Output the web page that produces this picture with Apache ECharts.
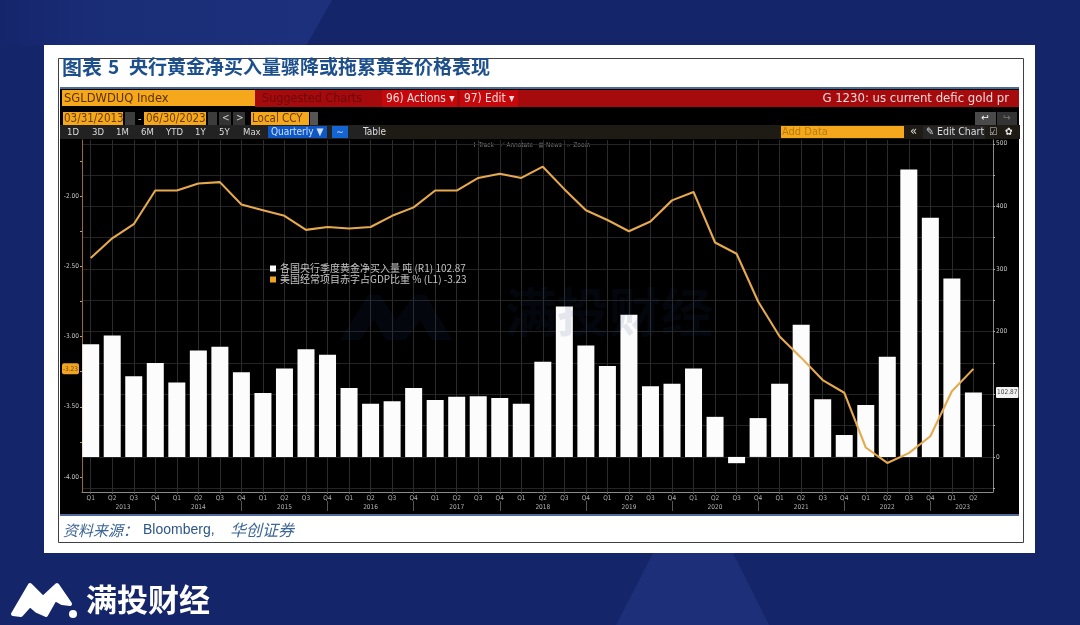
<!DOCTYPE html>
<html><head><meta charset="utf-8">
<style>html,body{margin:0;padding:0;background:#15256a}#c{width:1080px;height:625px;filter:blur(0.45px)}</style>
<script src="https://cdn.jsdelivr.net/npm/echarts@6/dist/echarts.min.js"></script>
</head><body><div id="c"></div>
<script>
const quarterLabels = ['Q1','Q2','Q3','Q4','Q1','Q2','Q3','Q4','Q1','Q2','Q3','Q4','Q1','Q2','Q3','Q4','Q1','Q2','Q3','Q4','Q1','Q2','Q3','Q4','Q1','Q2','Q3','Q4','Q1','Q2','Q3','Q4','Q1','Q2','Q3','Q4','Q1','Q2','Q3','Q4','Q1','Q2'];
const yearLabels = ['2013','2014','2015','2016','2017','2018','2019','2020','2021','2022','2023'];
const yearPositions = [1.5,5,9,13,17,21,25,29,33,37,40.5];
const yearSeparators = [3,7,11,15,19,23,27,31,35,39];
const goldPurchases = [180,194,129,150,119,170,176,135,102,141,172,163,110,85,89,110,91,96,97,94,85,152,240,178,145,227,113,117,141,64,-10,62,117,211,92,35,83,160,459,382,285,102.87];
const deficitPct = [-2.44,-2.30,-2.20,-1.96,-1.96,-1.91,-1.90,-2.06,-2.10,-2.14,-2.24,-2.22,-2.23,-2.22,-2.14,-2.08,-1.96,-1.96,-1.87,-1.84,-1.87,-1.79,-1.95,-2.10,-2.17,-2.25,-2.18,-2.03,-1.97,-2.33,-2.41,-2.75,-3.00,-3.15,-3.31,-3.40,-3.79,-3.90,-3.83,-3.71,-3.39,-3.23];
const leftTicks = [-4,-3.5,-3,-2.5,-2];
const leftMinorTicks = [-3.75,-3.25,-2.75,-2.25,-1.75];
const rightTicks = [0,100,200,300,400,500];
const rightMinorTicks = [-50,50,150,250,350,450];
const barName = '各国央行季度黄金净买入量 吨 (R1) 102.87';
const lineName = '美国经常项目赤字占GDP比重 % (L1) -3.23';
const lastLeft = -3.23, lastRight = 102.87;

const UI = '"DejaVu Sans Condensed","DejaVu Sans",sans-serif';
const CJK = '"Noto Sans CJK SC",sans-serif';
const idx = quarterLabels.map((_, i) => i);
const R = (x,y,w,h,fill,z) => ({type:'rect',silent:true,z:z||-5,shape:{x,y,width:w,height:h},style:{fill}});
const T = (x,y,text,fill,size,opt) => ({type:'text',silent:true,z:-1,x,y,style:Object.assign({text,fill,font:`${size}px ${UI}`,textVerticalAlign:'middle'},opt||{})});
const P = (points,fill,z) => ({type:'polygon',silent:true,z:z||-9,shape:{points},style:{fill}});

const graphic = [
  R(0,0,1080,625,'#15256a',-10),
  P([[0,0],[332,0],[306,46],[0,46]],{type:'linear',x:0,y:0,x2:1,y2:0,colorStops:[{offset:0,color:'#15256c'},{offset:.35,color:'#1a2e78'},{offset:1,color:'#1c307b'}]}),
  P([[653,553],[733,553],[769,625],[616,625]],'#1c2f78'),
  R(44,45,991,508,'#ffffff',-8),
  {type:'rect',silent:true,z:-7,shape:{x:58.5,y:58.5,width:965,height:484},style:{fill:'#fff',stroke:'#3f3f46',lineWidth:1}},
  R(60,88,959,427,'#000000',-6),
  R(60,87,959,2,'#4f6a9c',-5),
  R(60,514,959,2,'#4f6a9c',-5),
  // header row
  R(62,90,193,16,'#f5a81c'),
  R(255,90,764,17,'#a50a0c'),
  R(382,90,75,17,'#c5080c'),
  R(460,90,58,17,'#c5080c'),
  T(64,98.5,'SGLDWDUQ Index','#5a3200',12.8),
  T(262,98.5,'Suggested Charts','#6c0a0c',12.5),
  T(386,98.5,'96) Actions ▾','#f3dada',11.8),
  T(464,98.5,'97) Edit ▾','#f3dada',11.8),
  T(1009,98.5,'G 1230: us current defic gold pr','#f3d8d8',13,{textAlign:'right'}),
  // second row
  R(63,112,60,13,'#f5a81c'), T(64,119,'03/31/2013','#6b3c00',11.5),
  R(125,112,10,13,'#3c3c3c'),
  T(138,119,'-','#ccc',11),
  R(144,112,62,13,'#f5a81c'), T(146,119,'06/30/2023','#6b3c00',11.5),
  R(208,112,9,13,'#3c3c3c'),
  R(219,112,12,13,'#333'), T(222,118.5,'<','#ccc',10),
  R(233,112,12,13,'#333'), T(236,118.5,'>','#ccc',10),
  R(251,112,58,13,'#f5a81c'), T(252,119,'Local CCY','#6b3c00',11.5),
  R(310,112,8,13,'#555'),
  R(975,112,21,13,'#4a4a4a'), T(985,118.5,'↩','#fff',10,{textAlign:'center'}),
  R(997,112,20,13,'#333'), T(1007,118.5,'↪','#777',10,{textAlign:'center'}),
  // third row
  R(60,125,320,14,'#222222'),
  R(380,125,640,14,'#1e1a14'),
  T(67,132.5,'1D','#ddd',9.5), T(92,132.5,'3D','#ddd',9.5), T(116,132.5,'1M','#ddd',9.5), T(141,132.5,'6M','#ddd',9.5),
  T(166,132.5,'YTD','#ddd',9.5), T(195,132.5,'1Y','#ddd',9.5), T(219,132.5,'5Y','#ddd',9.5), T(243,132.5,'Max','#ddd',9.5),
  R(268,126,59,12,'#0e57c4'), T(271,132.5,'Quarterly ▼','#cfe0ff',10),
  R(332,126,16,12,'#1464d2'), T(340,132.5,'∼','#cfe0ff',10,{textAlign:'center'}),
  T(363,132.5,'Table','#ddd',10),
  R(781,126,123,12,'#f5a81c'), T(782,132.5,'Add Data','#b87c10',11),
  T(910,132,'«','#ddd',13),
  R(923,126,62,13,'#262626'), T(926,132.5,'✎ Edit Chart','#ddd',10.5),
  T(989,132.5,'☑','#ccc',10), T(1005,132.5,'✿','#eee',10),
  T(472,145.5,'✛ Track   ⟋ Annotate   ▤ News   ⌕ Zoom','#7a7a7a',6.5),
  // title and source
  T(62,67,'图表','#1d4f8c',20,{font:`bold 20px ${CJK}`}),
  T(108,67,'5','#1d4f8c',19,{font:`bold 19px ${CJK}`}),
  T(129,67,'央行黄金净买入量骤降或拖累黄金价格表现','#1d4f8c',19,{font:`bold 19px ${CJK}`}),
  T(63,530,'资料来源：','#3d6596',15,{font:`italic 15px ${CJK}`}),
  T(143,530,'Bloomberg,','#2c5688',14,{font:'14px "Liberation Sans",sans-serif'}),
  T(230,530,'华创证券','#3d6596',16,{font:`italic 16px ${CJK}`}),
  // footer logo
  {type:'polygon',silent:true,z:-2,shape:{points:[[13,614],[30,585],[43,598],[57,585],[70,604],[62,603],[55,599],[46,615],[37,611],[30,605],[21,615]]},style:{fill:'#fff',stroke:'#fff',lineWidth:4,lineJoin:'round'}},
  {type:'circle',silent:true,z:-2,shape:{cx:73,cy:614,r:4},style:{fill:'#fff'}},
  T(86,599,'满投财经','#ffffff',31,{font:`bold 31px ${CJK}`}),
  // watermark inside the chart
  {type:'text',silent:true,z:6,x:505,y:312,style:{text:'满投财经',fill:'rgba(40,55,120,0.11)',font:`bold 52px ${CJK}`,textVerticalAlign:'middle'}},
  P([[340,340],[368,295],[380,295],[396,320],[414,295],[426,295],[452,340],[432,340],[420,320],[406,340],[386,340],[374,320],[360,340]],'rgba(40,55,120,0.11)',6)
];

const xBase = {type:'value',min:-0.404,max:41.91,position:'bottom',gridIndex:0,splitLine:{show:false}};
const option = {
  animation:false,
  backgroundColor:'transparent',
  graphic:{elements:graphic},
  legend:{
    left:270,top:263,padding:0,orient:'vertical',itemWidth:6,itemHeight:6,itemGap:0,icon:'rect',
    textStyle:{color:'#c4c4c4',fontSize:10,fontFamily:CJK,padding:[0,0,0,-1],lineHeight:11},
    data:[barName,lineName]
  },
  grid:{left:82,right:87,top:140,bottom:133,containLabel:false},
  xAxis:[
    Object.assign({},xBase,{
      axisLine:{show:true,onZero:false,lineStyle:{color:'#8a8a8a',width:1}},
      axisTick:{show:true,length:2,customValues:idx,lineStyle:{color:'#666'}},
      axisLabel:{show:true,customValues:idx,margin:3,color:'#b5b5b5',fontSize:6.5,fontFamily:UI,hideOverlap:false,formatter:v=>quarterLabels[v]},
      splitLine:{show:true,customValues:idx,lineStyle:{color:'#2b2b2b',width:1}}
    }),
    Object.assign({},xBase,{
      axisLine:{show:false,onZero:false},axisTick:{show:false},
      axisLabel:{show:true,customValues:yearPositions,margin:12,color:'#b5b5b5',fontSize:6.5,fontFamily:UI,hideOverlap:false,formatter:v=>yearLabels[yearPositions.indexOf(v)]}
    }),
    Object.assign({},xBase,{
      offset:9,axisLine:{show:false,onZero:false},axisLabel:{show:false},
      axisTick:{show:true,length:10,customValues:yearSeparators,lineStyle:{color:'#555'}}
    })
  ],
  yAxis:[
    {type:'value',position:'left',min:-4.107,max:-1.6,splitLine:{show:false},
      axisLine:{show:true,onZero:false,lineStyle:{color:'#9a6a30'}},
      axisTick:{show:true,length:2,customValues:leftTicks.concat(leftMinorTicks),lineStyle:{color:'#c99a50'}},
      axisLabel:{show:true,customValues:leftTicks.concat([lastLeft]),margin:3,fontSize:6.5,fontFamily:UI,hideOverlap:false,color:'#c8c8c8',
        formatter:v=>v===lastLeft?'{flag|'+v.toFixed(2)+'}':v.toFixed(2),
        rich:{flag:{backgroundColor:'#f0a424',color:'#7a4a00',fontSize:6.5,padding:[2,1,2,1],borderRadius:2,width:15,align:'center'}}}
    },
    {type:'value',position:'right',min:-56,max:506,
      splitLine:{show:true,customValues:rightTicks,lineStyle:{color:'#242424',width:1}},
      axisLine:{show:true,onZero:false,lineStyle:{color:'#8a8a8a'}},
      axisTick:{show:true,length:2,customValues:rightTicks.concat(rightMinorTicks),lineStyle:{color:'#aaa'}},
      axisLabel:{show:true,customValues:rightTicks.concat([lastRight]),margin:3,fontSize:6.5,fontFamily:UI,hideOverlap:false,color:'#c8c8c8',
        formatter:v=>v===lastRight?'{flag|'+v+'}':String(v),
        rich:{flag:{backgroundColor:'#f2f2f2',color:'#444',fontSize:6.5,padding:[2,1,2,1],borderRadius:1,align:'center'}}}
    }
  ],
  series:[
    {name:barName,type:'bar',xAxisIndex:0,yAxisIndex:1,barWidth:17,z:3,
      itemStyle:{color:'#fcfcfc'},data:goldPurchases.map((v,i)=>[i,v])},
    {name:lineName,type:'line',xAxisIndex:0,yAxisIndex:0,z:4,symbol:'none',
      lineStyle:{color:'#e6a94e',width:2.1},itemStyle:{color:'#f0a424'},data:deficitPct.map((v,i)=>[i,v])}
  ]
};
echarts.init(document.getElementById('c'),null,{renderer:'canvas'}).setOption(option);
</script></body></html>
